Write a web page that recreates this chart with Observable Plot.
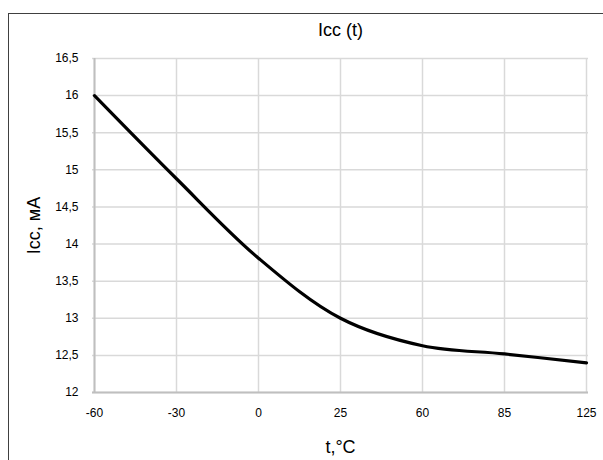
<!DOCTYPE html>
<html><head><meta charset="utf-8">
<script src="https://cdn.jsdelivr.net/npm/d3@7"></script>
<script src="https://cdn.jsdelivr.net/npm/@observablehq/plot@0.6"></script>
<style>
html,body{margin:0;padding:0;background:#fff;}
#wrap{position:relative;width:603px;height:460px;overflow:hidden;}
#frame{position:absolute;left:8px;top:13px;width:620px;height:480px;border:1px solid #404040;box-sizing:border-box;}
#chart{position:absolute;left:0;top:0;}
</style></head>
<body><div id="wrap"><div id="frame"></div><div id="chart"></div></div>
<script>
const temps = ["-60","-30","0","25","60","85","125"];
const icc = [16.0, 14.88, 13.81, 13.0, 12.63, 12.52, 12.40];
const yTicks = [12,12.5,13,13.5,14,14.5,15,15.5,16,16.5];
const title = "Icc (t)";
const xLabel = "t,°C";
const yLabel = "Icc, мА";

const data = temps.map((t,i)=>({t, v: icc[i]}));
const fmt = d => String(d).replace(".", ",");
const font = "Liberation Sans, Arial, sans-serif";

const chart = Plot.plot({
  width: 603, height: 460,
  marginLeft: 92, marginRight: 15, marginTop: 58, marginBottom: 68,
  style: {fontFamily: font, fontSize: "12px", color: "#000", background: "transparent"},
  x: {type: "point", domain: temps, padding: 0},
  y: {domain: [12, 16.5]},
  marks: [
    Plot.gridX(temps, {stroke: "#d9d9d9", strokeOpacity: 1, strokeWidth: 1.5}),
    Plot.gridY(yTicks, {stroke: "#d9d9d9", strokeOpacity: 1, strokeWidth: 1.5}),
    Plot.ruleY([12], {stroke: "#bfbfbf", strokeWidth: 2}),
    Plot.ruleX(["-60"], {stroke: "#bfbfbf", strokeWidth: 2}),
    Plot.axisX({tickSize: 0, tickPadding: 16, fontSize: 12, label: xLabel, labelAnchor: "center", labelArrow: "none", labelOffset: 60}),
    Plot.axisY(yTicks, {tickSize: 0, tickPadding: 14, tickFormat: fmt, fontSize: 12, label: yLabel, labelAnchor: "center", labelArrow: "none", labelOffset: 65}),
    Plot.line(data, {x: "t", y: "v", stroke: "#000", strokeWidth: 3.2, curve: "catmull-rom"}),
    Plot.text([title], {frameAnchor: "top", dy: -35, fontSize: 18, fill: "#000"})
  ]
});
chart.querySelectorAll("g[aria-label='x-axis label'] text, g[aria-label='y-axis label'] text").forEach(t=>{t.style.fontSize="18px";});
document.getElementById("chart").appendChild(chart);
</script></body></html>
